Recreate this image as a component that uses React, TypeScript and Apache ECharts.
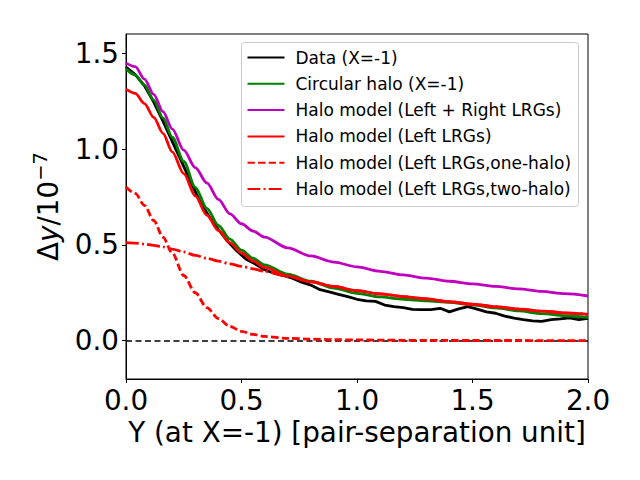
import React, { useEffect, useRef } from "react";
import * as echarts from "echarts";

// ---- data ----
const modelX = [0, 0.04, 0.08, 0.12, 0.16, 0.2, 0.25, 0.3, 0.35, 0.4, 0.45, 0.5, 0.55, 0.6, 0.7, 0.8, 0.9, 1.0, 1.1, 1.2, 1.3, 1.4, 1.5, 1.6, 1.7, 1.8, 1.9, 2.0];
const circularHalo = [1.418, 1.386, 1.333, 1.255, 1.162, 1.062, 0.935, 0.800, 0.690, 0.602, 0.530, 0.472, 0.430, 0.395, 0.347, 0.310, 0.274, 0.247, 0.228, 0.216, 0.208, 0.200, 0.187, 0.171, 0.155, 0.141, 0.130, 0.121];
const haloLeftRight = [1.448, 1.430, 1.365, 1.285, 1.195, 1.105, 0.994, 0.903, 0.823, 0.737, 0.662, 0.610, 0.572, 0.540, 0.484, 0.442, 0.410, 0.385, 0.362, 0.343, 0.326, 0.310, 0.296, 0.283, 0.270, 0.257, 0.245, 0.233];
const haloLeft = [1.312, 1.290, 1.237, 1.165, 1.082, 0.985, 0.872, 0.755, 0.655, 0.575, 0.510, 0.457, 0.415, 0.382, 0.338, 0.307, 0.283, 0.261, 0.244, 0.230, 0.218, 0.203, 0.190, 0.177, 0.165, 0.154, 0.145, 0.137];
const haloOne = [0.802, 0.768, 0.706, 0.627, 0.540, 0.458, 0.340, 0.250, 0.172, 0.115, 0.074, 0.049, 0.033, 0.022, 0.012, 0.008, 0.005, 0.004, 0.003, 0.002, 0.002, 0.001, 0.001, 0.001, 0.001, 0.0, 0.0, 0.0];
const haloTwo = [0.511, 0.509, 0.504, 0.497, 0.489, 0.478, 0.463, 0.445, 0.430, 0.415, 0.401, 0.388, 0.375, 0.362, 0.335, 0.308, 0.283, 0.261, 0.244, 0.230, 0.218, 0.203, 0.190, 0.177, 0.165, 0.154, 0.145, 0.137];

const dataX = [0, 0.04, 0.08, 0.12, 0.16, 0.2, 0.24, 0.28, 0.32, 0.36, 0.4, 0.44, 0.48, 0.52, 0.56, 0.6, 0.64, 0.68, 0.72, 0.76, 0.8, 0.84, 0.88, 0.92, 0.96, 1.0, 1.04, 1.08, 1.12, 1.16, 1.2, 1.24, 1.28, 1.32, 1.36, 1.4, 1.44, 1.48, 1.52, 1.56, 1.6, 1.64, 1.68, 1.72, 1.76, 1.8, 1.84, 1.88, 1.92, 1.96, 2.0];
const dataY = [1.428, 1.388, 1.330, 1.245, 1.145, 1.040, 0.935, 0.830, 0.725, 0.648, 0.580, 0.518, 0.468, 0.425, 0.400, 0.370, 0.352, 0.340, 0.326, 0.305, 0.290, 0.266, 0.254, 0.242, 0.230, 0.216, 0.208, 0.205, 0.186, 0.178, 0.172, 0.163, 0.162, 0.162, 0.169, 0.150, 0.166, 0.178, 0.165, 0.150, 0.143, 0.128, 0.118, 0.110, 0.103, 0.101, 0.110, 0.114, 0.119, 0.110, 0.117];

const xTicks = [0, 0.5, 1.0, 1.5, 2.0];
const yTicks = [0, 0.5, 1.0, 1.5];
const zeroLevel = 0;

const seriesNames = [
  "Data (X=-1)",
  "Circular halo (X=-1)",
  "Halo model (Left + Right LRGs)",
  "Halo model (Left LRGs)",
  "Halo model (Left LRGs,one-halo)",
  "Halo model (Left LRGs,two-halo)",
];

const FONT = "DejaVu Sans";

function pairs(xs: number[], ys: number[]) {
  return xs.map((x, i) => [x, ys[i]]);
}

export default function App() {
  const ref = useRef<HTMLDivElement>(null);
  useEffect(() => {
    if (!ref.current) return;
    const chart = echarts.init(ref.current, undefined, { renderer: "svg" });
    const lw = 2.8;
    const mk = (name: string, d: number[][], color: string, type: any, smooth: boolean, extra: any = {}) => ({
      name,
      type: "line",
      data: d,
      symbol: "none",
      showSymbol: false,
      smooth: smooth ? 0.3 : false,
      smoothMonotone: "x",
      lineStyle: { color, width: lw, type, cap: "butt" },
      itemStyle: { color },
      z: 2,
      ...extra,
    });
    chart.setOption({
      animation: false,
      backgroundColor: "#ffffff",
      grid: {
        left: 126,
        right: 52,
        top: 34,
        bottom: 101,
        show: true,
        borderColor: "#000",
        borderWidth: 1,
        backgroundColor: "transparent",
      },
      xAxis: {
        type: "value",
        min: 0,
        max: 2,
        interval: 0.5,
        name: "Y (at X=-1) [pair-separation unit]",
        nameLocation: "middle",
        nameGap: 38,
        nameTextStyle: { fontFamily: FONT, fontSize: 27.8, color: "#000" },
        axisLine: { show: true, onZero: false, lineStyle: { color: "#000", width: 1 } },
        axisTick: { show: true, length: 4, lineStyle: { color: "#000", width: 1 }, customValues: xTicks },
        axisLabel: {
          fontFamily: FONT,
          fontSize: 27.8,
          color: "#000",
          margin: 7,
          customValues: xTicks,
          formatter: (v: number) => v.toFixed(1),
        },
        splitLine: { show: false },
      },
      yAxis: {
        type: "value",
        min: -0.2,
        max: 1.6,
        name: "{n|Δ}{i|y}{n|/10}{s|−7}",
        nameLocation: "middle",
        nameGap: 64,
        nameTextStyle: {
          fontFamily: FONT,
          fontSize: 27.8,
          color: "#000",
          rich: {
            n: { fontFamily: FONT, fontSize: 27.8, color: "#000", lineHeight: 34, verticalAlign: "bottom" },
            i: { fontFamily: FONT, fontSize: 27.8, fontStyle: "italic", color: "#000", lineHeight: 34, verticalAlign: "bottom" },
            s: { fontFamily: FONT, fontSize: 19.5, color: "#000", lineHeight: 34, verticalAlign: "bottom", padding: [0, 0, 12, 0] },
          },
        },
        axisLine: { show: true, onZero: false, lineStyle: { color: "#000", width: 1 } },
        axisTick: { show: true, length: 4, lineStyle: { color: "#000", width: 1 }, customValues: yTicks },
        axisLabel: {
          fontFamily: FONT,
          fontSize: 27.8,
          color: "#000",
          margin: 7,
          customValues: yTicks,
          formatter: (v: number) => v.toFixed(1),
        },
        splitLine: { show: false },
      },
      legend: {
        data: seriesNames,
        orient: "vertical",
        left: 246.5,
        top: 47.5,
        padding: 0,
        itemWidth: 37,
        itemHeight: 14,
        itemGap: 6.3,
        itemStyle: { opacity: 0 },
        textStyle: { fontFamily: FONT, fontSize: 17, color: "#000", lineHeight: 20, padding: [0, 0, 0, 6] },
        z: 5,
      },
      graphic: [
        {
          type: "rect",
          shape: { x: 241.5, y: 42.5, width: 337, height: 164, r: 3 },
          style: { fill: "rgba(255,255,255,0.85)", stroke: "#cccccc", lineWidth: 1 },
          z: 4,
          silent: true,
        },
      ],
      series: [
        mk(seriesNames[0], pairs(dataX, dataY), "#000000", "solid", false, {
          markLine: {
            silent: true,
            symbol: ["none", "none"],
            label: { show: false },
            lineStyle: { color: "#000000", width: 1.6, type: [6, 3.5] },
            emphasis: { disabled: true },
            data: [{ yAxis: zeroLevel }],
            z: 1,
          },
        }),
        mk(seriesNames[1], pairs(modelX, circularHalo), "#008000", "solid", true),
        mk(seriesNames[2], pairs(modelX, haloLeftRight), "#bf00bf", "solid", true),
        mk(seriesNames[3], pairs(modelX, haloLeft), "#ff0000", "solid", true),
        mk(seriesNames[4], pairs(modelX, haloOne), "#ff0000", [7.4, 3.2], true),
        mk(seriesNames[5], pairs(modelX, haloTwo), "#ff0000", [12.8, 3.2, 2, 3.2], true),
      ],
    });
    return () => chart.dispose();
  }, []);
  return (
    <div
      ref={ref}
      style={{ position: "fixed", left: 0, top: 0, width: 640, height: 480, background: "#fff" }}
    />
  );
}
